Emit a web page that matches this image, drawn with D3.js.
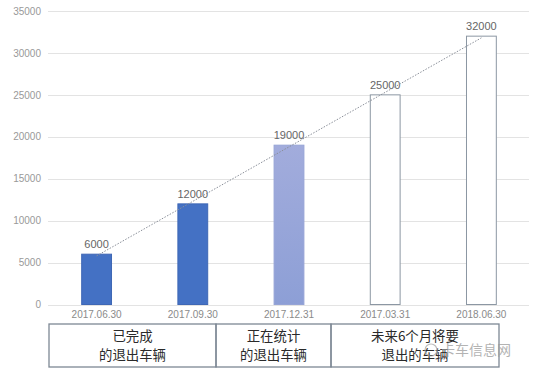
<!DOCTYPE html>
<html>
<head>
<meta charset="utf-8">
<script src="https://cdn.jsdelivr.net/npm/d3@7"></script>
<style>
  body { margin: 0; background: #fff; }
  svg { display: block; font-family: "Noto Sans CJK SC", "Liberation Sans", sans-serif; }
</style>
</head>
<body>
<div id="chart"></div>
<script>
const dates = ['2017.06.30', '2017.09.30', '2017.12.31', '2017.03.31', '2018.06.30'];
const values = [6000, 12000, 19000, 25000, 32000];
const barKinds = ['done', 'done', 'counting', 'future', 'future'];
const yTicks = [0, 5000, 10000, 15000, 20000, 25000, 30000, 35000];
const groupLabels = [['已完成', '的退出车辆'], ['正在统计', '的退出车辆'], ['未来6个月将要', '退出的车辆']];

const width = 550, height = 373;
const margin = {top: 11, right: 21, bottom: 68, left: 48};

const svg = d3.select('#chart').append('svg')
    .attr('width', width)
    .attr('height', height);

const defs = svg.append('defs');
const grad = defs.append('linearGradient')
    .attr('id', 'countGrad')
    .attr('x1', 0).attr('y1', 0).attr('x2', 0).attr('y2', 1);
grad.append('stop').attr('offset', '0%').attr('stop-color', '#a2acdc');
grad.append('stop').attr('offset', '100%').attr('stop-color', '#8d9fd6');

const x = d3.scaleBand()
    .domain(dates)
    .range([margin.left + 0.5, width - margin.right + 0.5])
    .paddingInner(0.69)
    .paddingOuter(0.345);

const y = d3.scaleLinear()
    .domain([0, 35000])
    .range([height - margin.bottom - 0.5, margin.top]);

// gridlines
svg.append('g')
    .selectAll('line')
    .data(yTicks)
    .join('line')
        .attr('x1', margin.left)
        .attr('x2', width - margin.right)
        .attr('y1', d => Math.round(y(d)) + 0.5)
        .attr('y2', d => Math.round(y(d)) + 0.5)
        .attr('stroke', '#e3e3e3')
        .attr('stroke-width', 1);

// y axis labels
const yAxis = svg.append('g')
    .attr('transform', `translate(${margin.left}, 0)`)
    .call(d3.axisLeft(y).tickValues(yTicks).tickSize(0).tickPadding(7).tickFormat(d3.format('d')));
yAxis.select('.domain').remove();
yAxis.selectAll('text')
    .attr('fill', '#999')
    .attr('font-size', 10)
    .attr('font-family', 'Liberation Sans, sans-serif');

// x axis labels
const xAxis = svg.append('g')
    .attr('transform', `translate(0, ${y(0)})`)
    .call(d3.axisBottom(x).tickSize(0).tickPadding(6));
xAxis.select('.domain').remove();
xAxis.selectAll('text')
    .attr('fill', '#8a8a8a')
    .attr('font-size', 10)
    .attr('font-family', 'Liberation Sans, sans-serif');

const fills = {done: '#4471c4', counting: 'url(#countGrad)', future: '#fff'};
const strokes = {done: '#3f67b5', counting: '#96a4d6', future: '#8c97a3'};

svg.append('g')
    .selectAll('rect')
    .data(values)
    .join('rect')
        .attr('x', (d, i) => x(dates[i]))
        .attr('y', d => y(d))
        .attr('width', x.bandwidth())
        .attr('height', d => y(0) - y(d))
        .attr('fill', (d, i) => fills[barKinds[i]])
        .attr('stroke', (d, i) => strokes[barKinds[i]])
        .attr('stroke-width', 1);

// value labels
svg.append('g')
    .selectAll('text')
    .data(values)
    .join('text')
        .attr('x', (d, i) => x(dates[i]) + x.bandwidth() / 2)
        .attr('y', d => y(d) - 6)
        .attr('text-anchor', 'middle')
        .attr('fill', '#666')
        .attr('font-size', 11)
        .attr('font-family', 'Liberation Sans, sans-serif')
        .text(d => d);

// linear trend line (least squares over the bars)
const n = values.length;
const idx = d3.range(n);
const mx = d3.mean(idx), my = d3.mean(values);
const slope = d3.sum(idx, i => (i - mx) * (values[i] - my)) / d3.sum(idx, i => (i - mx) ** 2);
const icpt = my - slope * mx;
const cx = i => x(dates[i]) + x.bandwidth() / 2;
svg.append('line')
    .attr('x1', cx(0))
    .attr('y1', y(icpt))
    .attr('x2', cx(n - 1))
    .attr('y2', y(icpt + slope * (n - 1)))
    .attr('stroke', '#8a8f99')
    .attr('stroke-width', 1)
    .attr('stroke-dasharray', '1.5,1.5');

// category boxes under the axis
const boxTop = 324, boxBottom = 367;
const boxEdges = [49, 216, 331, 499];
const boxes = svg.append('g');
groupLabels.forEach((lines, gi) => {
    const x0 = boxEdges[gi], x1 = boxEdges[gi + 1];
    boxes.append('rect')
        .attr('x', x0)
        .attr('y', boxTop)
        .attr('width', x1 - x0)
        .attr('height', boxBottom - boxTop)
        .attr('fill', 'none')
        .attr('stroke', '#7d8894')
        .attr('stroke-width', 1.3);
    const label = boxes.append('text')
        .attr('text-anchor', 'middle')
        .attr('fill', '#2a2a2a')
        .attr('font-size', 13.4);
    lines.forEach((t, li) => {
        label.append('tspan')
            .attr('x', (x0 + x1) / 2)
            .attr('y', 336 + li * 19.6)
            .attr('dy', '0.35em')
            .text(t);
    });
});

// watermark
const wm = svg.append('g').attr('opacity', 0.75);
wm.append('circle').attr('cx', 431).attr('cy', 350).attr('r', 6)
    .attr('fill', 'none').attr('stroke', '#aaa').attr('stroke-width', 1.2);
wm.append('text')
    .attr('x', 441).attr('y', 355)
    .attr('fill', '#9a9a9a')
    .attr('font-size', 14)
    .text('卡车信息网');
</script>
</body>
</html>
